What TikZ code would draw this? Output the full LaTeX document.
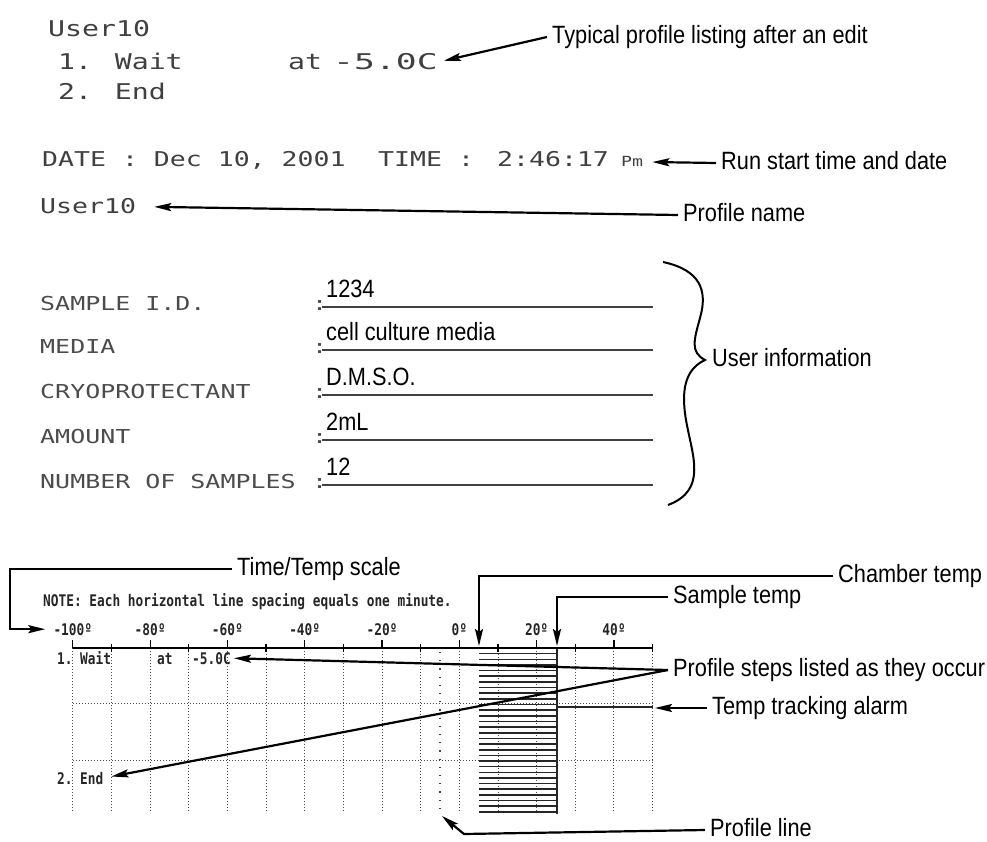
\documentclass[tikz,border=0pt]{standalone}
\usepackage{fontspec}
\usetikzlibrary{arrows.meta, calc}
\newfontfamily\callfont[FakeStretch=0.87]{Liberation Sans}
\newfontfamily\prtfont[FakeStretch=1.3]{DejaVu Sans Mono}
\newfontfamily\prtwide[FakeStretch=1.6]{DejaVu Sans Mono}
\newfontfamily\plotfont[FakeStretch=0.8]{DejaVu Sans Mono}

\tikzset{
  callout/.style={font=\callfont\fontsize{25}{30}\selectfont, inner xsep=5pt, inner ysep=0pt,
    text height=18pt, text depth=5pt, anchor=west},
  arr/.style={line width=2.2pt, -{Stealth[length=17pt,width=8pt,inset=3pt]}},
  prt/.style={font=\prtfont\fontsize{21.7}{26}\selectfont, text=black!75, inner sep=0pt, anchor=base west},
  prtsmall/.style={font=\prtfont\fontsize{20.4}{24}\selectfont, text=black!75, inner sep=0pt, anchor=base west},
  formtxt/.style={font=\prtfont\fontsize{19.2}{23}\selectfont, text=black!70, inner sep=0pt, anchor=base west},
  formval/.style={font=\callfont\fontsize{25}{29}\selectfont, inner sep=0pt, anchor=base west},
  plottxt/.style={font=\plotfont\bfseries\fontsize{16}{19}\selectfont, text=black!85, inner sep=0pt, anchor=base west},
  gridline/.style={black!70, line width=0.9pt, dash pattern=on 0.9pt off 2.1pt},
  bandline/.style={black!85, line width=1.6pt},
}

\begin{document}
\begin{tikzpicture}[x=1pt, y=-1pt]
	\useasboundingbox (0,0) rectangle (987,842);

	% profile listing
	\node[prt] (usr1) at (48,37) {User10};
	\node[prt] (lst1) at (58,70) {1. Wait};
	\node[prt] (lstat) at (288,70) {at};
	\node[prt, font=\prtwide\fontsize{21.7}{26}\selectfont] (lst5) at (333,70) {-5.0C};
	\node[prt] (lst2) at (58,99.5) {2. End};

	\node[callout] (typ) at (547,37) {Typical profile listing after an edit};
	\draw[arr, shorten >=6pt] (typ.west) -- (lst5.east);

	% date and time
	\node[prtsmall] (date) at (42,167) {DATE : Dec 10, 2001};
	\node[prtsmall] (time) at (378,167) {TIME :};
	\node[prtsmall] (clock) at (497,167) {2:46:17};
	\node[prtsmall, font=\prtfont\fontsize{14}{16}\selectfont] (ampm) at (621,167) {Pm};

	\node[callout] (run) at (716,163) {Run start time and date};
	\draw[arr, shorten >=9pt] (run.west) -- (ampm.east);

	\node[prtsmall] (usr2) at (40,214) {User10};
	\node[callout] (pnm) at (678,215) {Profile name};
	\draw[arr, shorten >=18pt] (pnm.west) -- (usr2.east);

	% user information form
	\foreach \lab/\val/\ul [count=\i] in {SAMPLE I.D./1234/307, MEDIA/cell culture media/350,
	    CRYOPROTECTANT/D.M.S.O./395, AMOUNT/2mL/440, NUMBER OF SAMPLES/12/485} {
		\node[formtxt] (flab\i) at (40,\ul+3) {\lab};
		\node[formtxt] (fcol\i) at (312,\ul+3) {:};
		\node[formval] (fval\i) at (326,\ul-10) {\val};
		\draw[black!75, line width=1.3pt] (322,\ul) -- (653,\ul);
	}

	\draw[line width=2pt] (663,262) .. controls (700,270) and (708,290) .. (700,318)
		.. controls (694,340) and (690,352) .. (705,360)
		.. controls (688,368) and (680,385) .. (686,420)
		.. controls (692,455) and (708,490) .. (668,505);
	\node[callout] (uinf) at (707,360) {User information};

	% chart
	\node[plottxt] (note) at (43,606) {NOTE: Each horizontal line spacing equals one minute.};

	\foreach \t in {-100,-90,...,50} {
		\pgfmathsetmacro{\xx}{459.3+3.865*\t}
		\draw[gridline] (\xx,648) -- (\xx,813);
	}
	\foreach \yy in {703,760}
		\draw[gridline] (72.8,\yy) -- (652.5,\yy);

	% chamber/sample band
	\foreach \k in {1,...,29}
		\draw[bandline] (479,{648+5.65*\k}) -- (557,{648+5.65*\k});
	\draw[bandline] (557,648) -- (557,814);
	\draw[bandline] (557,707) -- (652.5,707);

	% profile line at -5
	\draw[black!75, line width=1.2pt, dash pattern=on 1.2pt off 7pt] (440,652) -- (440,813);

	% axis
	\draw[line width=1.4pt] (72.8,648) -- (652.5,648);
	\foreach \t in {-100,-80,...,40} {
		\pgfmathsetmacro{\xx}{459.3+3.865*\t}
		\draw[line width=1.2pt] (\xx,648) -- (\xx,640);
		\node[plottxt, anchor=base] (scale\t) at (\xx,635) {\t º};
	}
	\foreach \t in {-90,-70,...,50} {
		\pgfmathsetmacro{\xx}{459.3+3.865*\t}
		\draw[line width=1.2pt] (\xx,644) -- (\xx,652);
	}

	\node[plottxt] (st1) at (57,664) {1.};
	\node[plottxt] (wt) at (80,664) {Wait};
	\node[plottxt] (wtat) at (157,664) {at};
	\node[plottxt] (wt5) at (192,664) {-5.0C};
	\node[plottxt] (st2) at (57,784) {2.};
	\node[plottxt] (end) at (80,784) {End};

	% callouts for the chart
	\node[callout] (tts) at (232,569) {Time/Temp scale};
	\coordinate (ttscorner) at (10,569);
	\draw[arr, shorten >=8pt] (tts.west) -- (ttscorner) |- (scale-100.west);

	\node[callout] (chm) at (833,576) {Chamber temp};
	\coordinate (chtip) at (479,646);
	\draw[arr] (chm.west) -| (chtip);

	\node[callout] (smp) at (668,597) {Sample temp};
	\coordinate (smptip) at (557,646);
	\draw[arr] (smp.west) -| (smptip);

	\node[callout] (pst) at (668,670) {Profile steps listed as they occur};
	\draw[arr, shorten >=3pt] (pst.west) -- (wt5.east);
	\draw[arr, shorten >=8pt] (pst.west) -- (end.east);

	\node[callout] (tta) at (707,708) {Temp tracking alarm};
	\coordinate (alarmend) at (655,708);
	\draw[arr] (tta.west) -- (alarmend);

	\node[callout] (pln) at (705,830) {Profile line};
	\coordinate (plcorner) at (464,834);
	\coordinate (pltip) at (442,816);
	\draw[arr] (pln.west) -- (plcorner) -- (pltip);

\end{tikzpicture}
\end{document}
